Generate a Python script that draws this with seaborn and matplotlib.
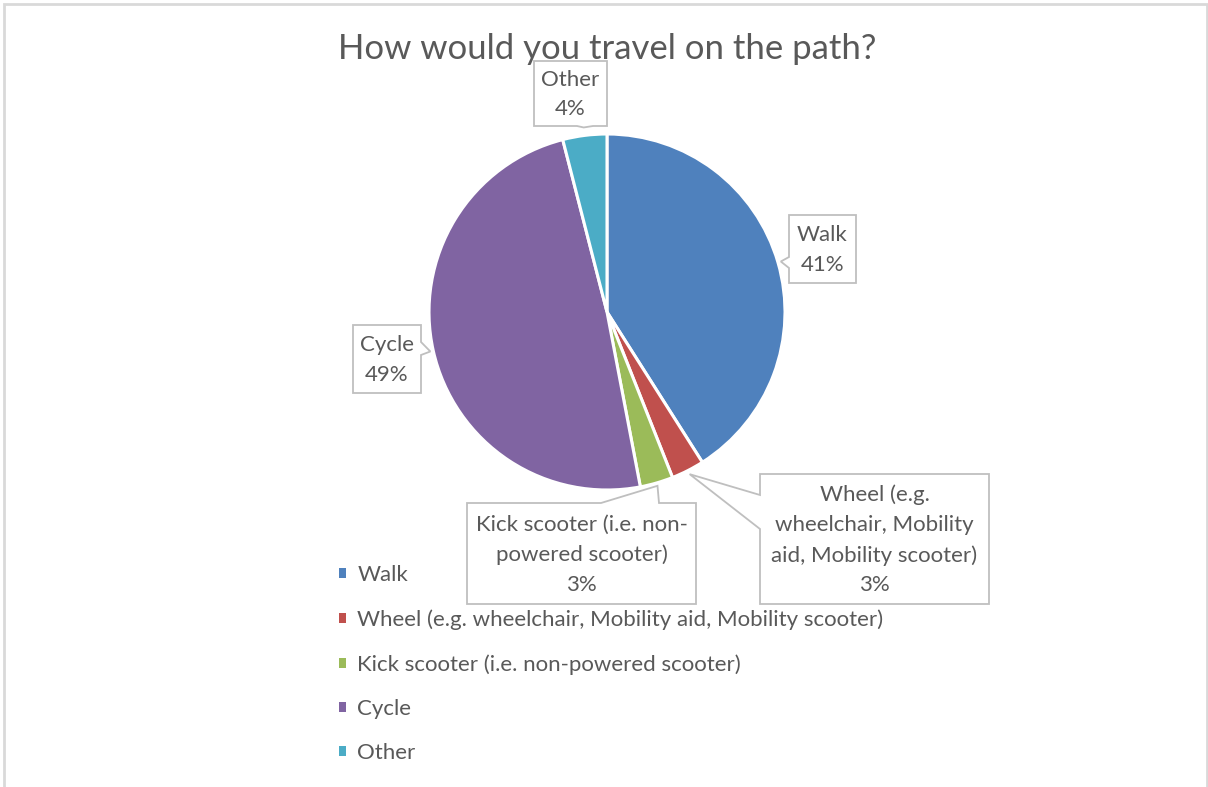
import matplotlib
matplotlib.use("Agg")
import matplotlib.pyplot as plt
from matplotlib.patches import Polygon, Patch, Rectangle
import numpy as np
import seaborn as sns

# ---- data -------------------------------------------------------------
categories = [
    "Walk",
    "Wheel (e.g. wheelchair, Mobility aid, Mobility scooter)",
    "Kick scooter (i.e. non-powered scooter)",
    "Cycle",
    "Other",
]
shares = [41, 3, 3, 49, 4]
callout_names = [
    "Walk",
    "Wheel (e.g.\nwheelchair, Mobility\naid, Mobility scooter)",
    "Kick scooter (i.e. non-\npowered scooter)",
    "Cycle",
    "Other",
]
colors = ["#4F81BD", "#C0504D", "#9BBB59", "#8064A2", "#4BACC6"]
title = "How would you travel on the path?"

# ---- figure setup (work in pixel units, y measured from the top) -------
W, H = 1208, 787
sns.set_theme(style="white")
plt.rcParams["font.family"] = ["Lato", "DejaVu Sans"]
TEXT = "#595959"
BORDER = "#BFBFBF"

fig = plt.figure(figsize=(W / 100, H / 100), dpi=100)
fig.patch.set_facecolor("white")
ax = fig.add_axes([0, 0, 1, 1])


def P(x, y):
    return (x, H - y)


palette = sns.color_palette(colors)
cx, cy, R = 607, 312, 178
wedges, _ = ax.pie(
    shares,
    colors=palette,
    startangle=90,
    counterclock=False,
    radius=R,
    center=P(cx, cy),
    wedgeprops=dict(edgecolor="white", linewidth=2.2),
    frame=True,
)
ax.set_xlim(0, W)
ax.set_ylim(0, H)
ax.set_axis_off()

# chart area border
ax.add_patch(Rectangle(P(4, 800), 1203, 796, fill=False,
                       edgecolor="#D9D9D9", linewidth=2.0, zorder=0))

ax.text(*P(607, 49), title, ha="center", va="center",
        fontsize=25, color=TEXT)

# ---- data callouts ----------------------------------------------------
# box (x0, y0, x1, y1), side carrying the pointer, pointer base interval
callouts = [
    ((789, 215, 856, 283), "left", (257, 268), 3),
    ((760, 474, 989, 604), "left", (495, 529), 4),
    ((467, 503, 696, 604), "top", (601, 659), 3),
    ((353, 325, 421, 393), "right", (342, 355), 3),
    ((534, 61, 607, 126), "bottom", (577, 593), 8),
]


def callout_polygon(box, side, base, apex):
    x0, y0, x1, y1 = box
    a, b = base
    if side == "left":
        pts = [(x0, y0), (x1, y0), (x1, y1), (x0, y1), (x0, b), apex, (x0, a)]
    elif side == "right":
        pts = [(x0, y0), (x1, y0), (x1, a), apex, (x1, b), (x1, y1), (x0, y1)]
    elif side == "top":
        pts = [(x0, y0), (a, y0), apex, (b, y0), (x1, y0), (x1, y1), (x0, y1)]
    else:
        pts = [(x0, y0), (x1, y0), (x1, y1), (b, y1), apex, (a, y1), (x0, y1)]
    return [P(x, y) for x, y in pts]


for wedge, name, share, (box, side, base, gap) in zip(
        wedges, callout_names, shares, callouts):
    mid = np.deg2rad((wedge.theta1 + wedge.theta2) / 2)
    apex = (cx + (R + gap) * np.cos(mid), cy - (R + gap) * np.sin(mid))
    ax.add_patch(Polygon(callout_polygon(box, side, base, apex), closed=True,
                         facecolor="white", edgecolor=BORDER,
                         linewidth=1.3, zorder=3))
    x0, y0, x1, y1 = box
    ax.text(*P((x0 + x1) / 2, (y0 + y1) / 2 + 1), f"{name}\n{share}%",
            ha="center", va="center", fontsize=16, color=TEXT,
            linespacing=1.6, zorder=4)

# ---- legend -----------------------------------------------------------
handles = [Patch(facecolor=c, edgecolor="none") for c in palette]
ax.legend(handles, categories, loc="upper left",
          bbox_to_anchor=P(339, 565), bbox_transform=ax.transData,
          frameon=False, fontsize=16, labelcolor=TEXT,
          handlelength=0.33, handleheight=0.33, handletextpad=0.5,
          labelspacing=1.09, borderaxespad=0, borderpad=0)

fig.savefig("out.png", dpi=100, facecolor="white")
